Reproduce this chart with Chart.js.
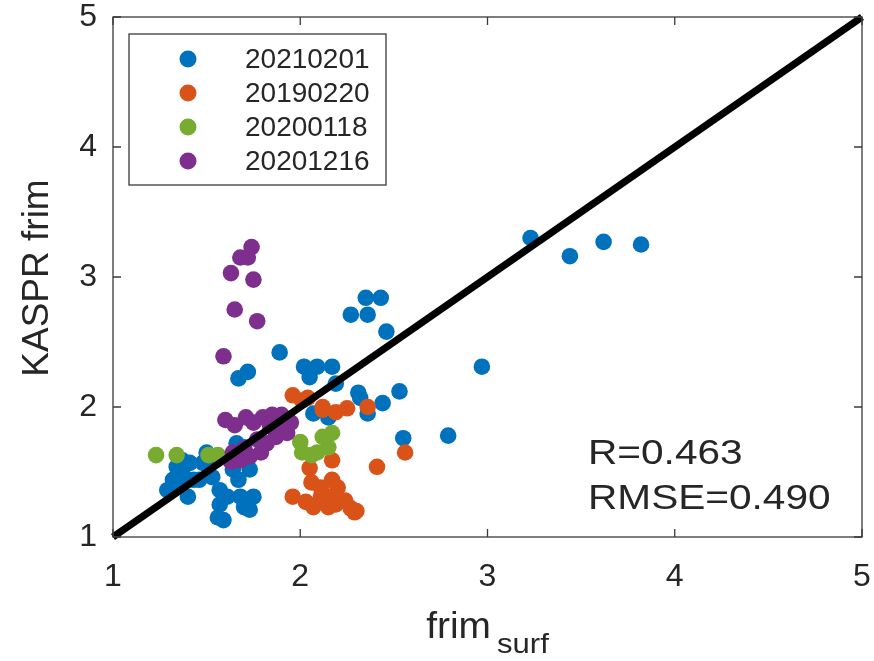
<!DOCTYPE html>
<html>
<head>
<meta charset="utf-8">
<script src="https://cdn.jsdelivr.net/npm/chart.js@4/dist/chart.umd.min.js"></script>
<style>
html,body{margin:0;padding:0;background:#fff;}
#c{display:block;}
</style>
</head>
<body>
<canvas id="c" width="874" height="661"></canvas>
<script>
// ---- data ----
const seriesLabels = ['20210201', '20190220', '20200118', '20201216'];
const seriesColors = ['#0072BD', '#D95319', '#77AC30', '#7E2F8E'];

const blueX = [3.23,3.44,3.62,3.82,2.97,2.79,2.55,2.53,2.35,2.43,2.27,2.36,2.46,1.89,2.02,2.09,2.05,2.17,2.19,2.31,2.32,2.44,2.07,2.15,2.36,1.72,1.67,1.29,1.40,1.46,1.52,1.53,1.57,1.57,1.56,1.59,1.61,1.64,1.67,1.68,1.70,1.70,1.66,1.73,1.73,1.75,1.34,1.37,1.41,1.32,1.36,1.43,1.48,1.50,1.37];
const blueY = [3.30,3.16,3.27,3.25,2.31,1.78,1.76,2.12,2.84,2.84,2.71,2.71,2.58,2.42,2.31,2.31,2.23,2.31,2.18,2.11,2.07,2.03,1.95,1.92,1.95,2.27,2.22,1.36,1.31,1.44,1.59,1.46,1.36,1.25,1.15,1.13,1.31,1.52,1.44,1.31,1.23,1.69,1.72,1.52,1.21,1.31,1.54,1.59,1.57,1.44,1.42,1.44,1.57,1.65,1.49];

const orangeX = [1.96,2.04,2.12,2.36,2.12,2.19,2.25,2.56,2.41,2.05,2.17,2.06,2.11,2.17,2.20,1.96,2.03,2.07,2.15,2.16,2.24,2.19,2.29,2.27,2.11,2.01,2.30];
const orangeY = [2.09,2.07,2.00,2.00,1.98,1.96,1.99,1.65,1.54,1.53,1.59,1.42,1.38,1.44,1.38,1.31,1.27,1.23,1.23,1.31,1.28,1.25,1.19,1.22,1.31,2.05,1.20];

const greenX = [1.23,1.34,1.51,1.56,2.00,2.01,2.09,2.15,2.12,2.17,2.06];
const greenY = [1.63,1.63,1.63,1.63,1.73,1.65,1.65,1.69,1.77,1.80,1.63];

const purpleX = [1.74,1.68,1.72,1.63,1.75,1.65,1.77,1.59,1.60,1.65,1.71,1.75,1.80,1.85,1.90,1.95,1.93,1.87,1.82,1.79,1.73,1.68,1.63,1.64,1.77,1.89,1.84,1.70];
const purpleY = [3.23,3.15,3.15,3.03,2.98,2.75,2.66,2.39,1.90,1.86,1.92,1.88,1.92,1.94,1.94,1.88,1.80,1.77,1.72,1.65,1.62,1.59,1.58,1.65,1.75,1.84,1.85,1.68];

const identityLine = [1, 5];
const tickValues = [1, 2, 3, 4, 5];
const statLines = ['R=0.463', 'RMSE=0.490'];
const xTitleMain = 'frim';
const xTitleSub = 'surf';
const yTitle = 'KASPR frim';

// ---- build datasets ----
function pts(xs, ys){ return xs.map((x,i)=>({x:x, y:ys[i]})); }
const seriesX = [blueX, orangeX, greenX, purpleX];
const seriesY = [blueY, orangeY, greenY, purpleY];

const datasets = seriesLabels.map((lab, i) => ({
  type: 'scatter',
  label: lab,
  data: pts(seriesX[i], seriesY[i]),
  backgroundColor: seriesColors[i],
  borderWidth: 0,
  pointRadius: 8.3,
  pointHoverRadius: 8.3,
  order: 5 - i
}));
datasets.push({
  type: 'line',
  label: '1:1',
  data: pts(identityLine, identityLine),
  borderColor: '#000',
  borderWidth: 7,
  pointRadius: 0,
  fill: false,
  clip: false,
  order: 0
});

const FONT = '"Liberation Sans", Arial, Helvetica, sans-serif';
const TXT = '#262626';

function stretchText(ctx, text, x, y, sx) {
  ctx.save();
  ctx.translate(x, y);
  ctx.scale(sx, 1);
  ctx.fillText(text, 0, 0);
  ctx.restore();
}

const decor = {
  id: 'decor',
  afterDraw(chart) {
    const ctx = chart.ctx;
    const a = chart.chartArea;
    const xs = chart.scales.x, ys = chart.scales.y;
    ctx.save();
    // frame
    ctx.strokeStyle = '#3a3a3a';
    ctx.lineWidth = 1.3;
    ctx.strokeRect(a.left, a.top, a.right - a.left, a.bottom - a.top);
    // inward ticks
    const tl = 8;
    ctx.beginPath();
    tickValues.forEach(v => {
      const px = xs.getPixelForValue(v);
      ctx.moveTo(px, a.bottom); ctx.lineTo(px, a.bottom - tl);
      ctx.moveTo(px, a.top); ctx.lineTo(px, a.top + tl);
      const py = ys.getPixelForValue(v);
      ctx.moveTo(a.left, py); ctx.lineTo(a.left + tl, py);
      ctx.moveTo(a.right, py); ctx.lineTo(a.right - tl, py);
    });
    ctx.stroke();

    // legend
    const lx = 129, ly = 34, lw = 257, lh = 151;
    ctx.fillStyle = '#fff';
    ctx.fillRect(lx, ly, lw, lh);
    ctx.strokeStyle = '#3a3a3a';
    ctx.lineWidth = 1.3;
    ctx.strokeRect(lx, ly, lw, lh);
    ctx.font = '28px ' + FONT;
    ctx.textBaseline = 'middle';
    ctx.textAlign = 'left';
    seriesLabels.forEach((lab, i) => {
      const cy = ly + 25 + i * 34;
      ctx.fillStyle = seriesColors[i];
      ctx.beginPath();
      ctx.arc(188, cy, 8.5, 0, Math.PI * 2);
      ctx.fill();
      ctx.fillStyle = TXT;
      ctx.fillText(lab, 245, cy + 1);
    });

    // stats text
    ctx.fillStyle = TXT;
    ctx.font = '35px ' + FONT;
    ctx.textBaseline = 'alphabetic';
    stretchText(ctx, statLines[0], 588, 464, 1.16);
    stretchText(ctx, statLines[1], 588, 509, 1.16);

    // x title with subscript
    const sx = 1.08;
    ctx.font = '36px ' + FONT;
    const w1 = ctx.measureText(xTitleMain).width * sx;
    ctx.font = '27px ' + FONT;
    const w2 = ctx.measureText(xTitleSub).width * 1.15;
    const cx = (a.left + a.right) / 2;
    const startX = cx - (w1 + w2 + 6) / 2;
    ctx.font = '36px ' + FONT;
    stretchText(ctx, xTitleMain, startX, 638, sx);
    ctx.font = '27px ' + FONT;
    stretchText(ctx, xTitleSub, startX + w1 + 6, 653, 1.15);

    // y title
    ctx.save();
    ctx.translate(38, 278);
    ctx.rotate(-Math.PI / 2);
    ctx.font = '37px ' + FONT;
    ctx.textAlign = 'center';
    ctx.textBaseline = 'middle';
    ctx.fillText(yTitle, 0, 0);
    ctx.restore();

    ctx.restore();
  }
};

function zeroPad(s) { s.paddingLeft = 0; s.paddingRight = 0; s.paddingTop = 0; s.paddingBottom = 0; }

new Chart(document.getElementById('c'), {
  data: { datasets: datasets },
  options: {
    responsive: false,
    animation: false,
    devicePixelRatio: 1,
    layout: { padding: { top: 17, right: 12, left: 0, bottom: 0 } },
    plugins: { legend: { display: false }, tooltip: { enabled: false } },
    scales: {
      x: {
        type: 'linear', min: 1, max: 5,
        afterBuildTicks(s) { s.ticks = tickValues.map(v => ({ value: v })); },
        ticks: { font: { family: FONT, size: 32, lineHeight: 1 }, color: TXT, padding: 24, maxRotation: 0 },
        grid: { display: false, drawTicks: false },
        border: { display: false },
        afterFit(s) { s.height = 124; zeroPad(s); }
      },
      y: {
        type: 'linear', min: 1, max: 5,
        afterBuildTicks(s) { s.ticks = tickValues.map(v => ({ value: v })); },
        ticks: { font: { family: FONT, size: 32, lineHeight: 1 }, color: TXT, padding: 16 },
        grid: { display: false, drawTicks: false },
        border: { display: false },
        afterFit(s) { s.width = 113; zeroPad(s); }
      }
    }
  },
  plugins: [decor]
});
</script>
</body>
</html>
